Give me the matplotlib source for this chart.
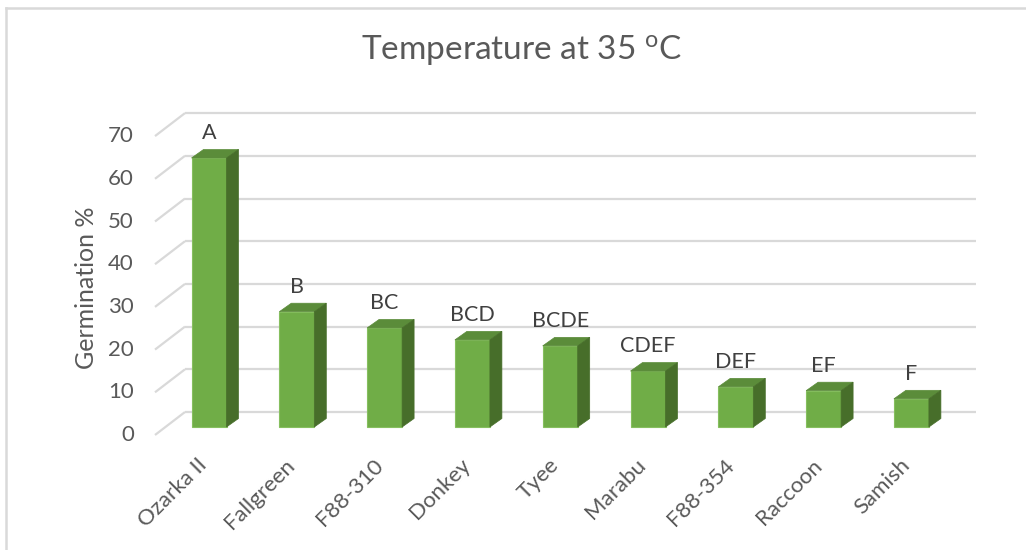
import matplotlib
matplotlib.use('Agg')
import matplotlib.pyplot as plt
import matplotlib.patches as patches
from matplotlib.lines import Line2D
import numpy as np

plt.rcParams['font.family'] = ['Lato', 'DejaVu Sans']

# --- data ---
varieties = ['Ozarka II', 'Fallgreen', 'F88-310', 'Donkey', 'Tyee',
             'Marabu', 'F88-354', 'Raccoon', 'Samish']
germination = [63, 27, 23.2, 20.4, 19, 13.1, 9.4, 8.5, 6.6]
groups = ['A', 'B', 'BC', 'BCD', 'BCDE', 'CDEF', 'DEF', 'EF', 'F']
y_ticks = [0, 10, 20, 30, 40, 50, 60, 70]

# --- pixel scale of the fake 3D frame ---
PX_X = 87.8      # pixels per category step
PX_Y = 4.27      # pixels per percent
X0_PX, Y0_PX = 209, 427   # front center of first bar / front floor of bars
W, H = 1026, 550

def dx(px):
    return px / PX_X

def dy(px):
    return px / PX_Y

text_gray = '#595959'
grid_col = '#d9d9d9'
front_col = '#70ad47'
top_col = '#5b8c3a'
side_col = '#476e2a'
edge_col = '#86bf5f'

fig = plt.figure(figsize=(W / 100, H / 100), dpi=100)
ax = fig.add_axes([0, 0, 1, 1])
ax.set_xlim(-X0_PX / PX_X, (W - X0_PX) / PX_X)
ax.set_ylim((Y0_PX - H) / PX_Y, Y0_PX / PX_Y)
ax.axis('off')

x = np.arange(len(varieties))
bar_w = dx(35)

# tick plane (front) and back wall offsets relative to bar front plane
front_off = (dx(-11), dy(-8))
back_off = (dx(19), dy(15))
left_front = x[0] - dx(54)
right_back = x[-1] + dx(65)

for v in y_ticks:
    xf, yf = left_front, v + front_off[1]
    xb, yb = left_front + dx(30), v + back_off[1]
    ax.plot([xf, xb], [yf, yb], color=grid_col, lw=1.6, zorder=1,
            solid_capstyle='butt')
    ax.plot([xb, right_back], [yb, yb], color=grid_col, lw=1.6, zorder=1,
            solid_capstyle='butt')
    ax.text(xf - dx(21), yf, str(v), ha='right', va='center',
            fontsize=16, color=text_gray)

# bars: front faces from ax.bar, top and side faces as polygons
ax.bar(x, germination, width=bar_w, color=front_col, edgecolor=edge_col,
       linewidth=0.8, zorder=3)
ddx, ddy = dx(12), dy(8.5)
for xi, v in zip(x, germination):
    l, r = xi - bar_w / 2, xi + bar_w / 2
    top = patches.Polygon([(l, v), (r, v), (r + ddx, v + ddy), (l + ddx, v + ddy)],
                          closed=True, facecolor=top_col, edgecolor=top_col,
                          linewidth=0.5, zorder=3)
    side = patches.Polygon([(r, 0), (r + ddx, ddy), (r + ddx, v + ddy), (r, v)],
                           closed=True, facecolor=side_col, edgecolor=side_col,
                           linewidth=0.5, zorder=3)
    ax.add_patch(top)
    ax.add_patch(side)

# significance letters
for xi, v, g in zip(x, germination, groups):
    ax.text(xi, v + dy(25), g, ha='center', va='center', fontsize=15.5,
            color='#404040', zorder=4)

# category labels
for xi, name in zip(x, varieties):
    ax.text(xi - dx(12), dy(-28), name, ha='right', va='top', rotation=45,
            rotation_mode='anchor', fontsize=16, color=text_gray)

fig.text(522 / W, 1 - 50 / H, r'Temperature at 35 $\mathregular{^{o}}$C',
         ha='center', va='center', fontsize=24, color=text_gray)
fig.text(86 / W, 1 - 288 / H, 'Germination %', ha='center', va='center',
         rotation=90, fontsize=18, color=text_gray)

# chart area border (top and left edges visible)
fig.add_artist(Line2D([6 / W, 6 / W], [0, 1 - 8 / H], color=grid_col, lw=1.8))
fig.add_artist(Line2D([6 / W, 1], [1 - 8 / H, 1 - 8 / H], color=grid_col, lw=1.8))

fig.savefig('out.png', dpi=100)
